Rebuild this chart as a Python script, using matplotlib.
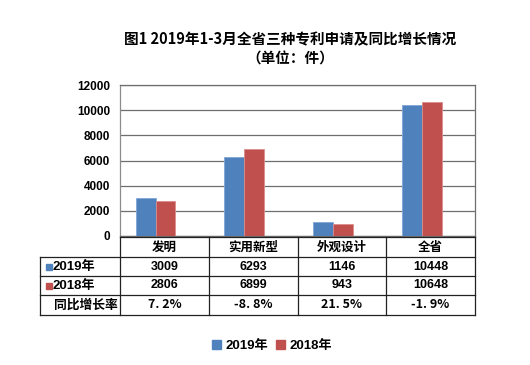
import matplotlib
matplotlib.use("Agg")
import matplotlib.pyplot as plt
from matplotlib.patches import Rectangle

plt.rcParams['font.family'] = ['Noto Sans CJK SC', 'DejaVu Sans']
plt.rcParams['font.weight'] = 'bold'

categories = ['发明', '实用新型', '外观设计', '全省']
series_names = ['2019年', '2018年']
values_2019 = [3009, 6293, 1146, 10448]
values_2018 = [2806, 6899, 943, 10648]
growth_labels = ['7.2%', '-8.8%', '21.5%', '-1.9%']
row_label_growth = '同比增长率'
yticks = [0, 2000, 4000, 6000, 8000, 10000, 12000]
title = '图1 2019年1-3月全省三种专利申请及同比增长情况\n（单位：件）'

c2019 = '#4F81BD'
c2018 = '#C0504D'
W, H = 530, 365
fig = plt.figure(figsize=(W / 100, H / 100), dpi=100)
num_font = ['Liberation Sans', 'Noto Sans CJK SC', 'DejaVu Sans']
mix_font = ['Liberation Sans', 'Noto Sans CJK SC', 'DejaVu Sans']

def fx(px):
    return px / W

def fy(py):
    return 1 - py / H

# main chart axes
ax = fig.add_axes([fx(120), fy(236), fx(475) - fx(120), fy(85) - fy(236)])
n = len(categories)
xs = list(range(n))
bw = 0.225
off = -0.1
ax.bar([x + off - bw / 2 for x in xs], values_2019, width=bw, color=c2019,
       edgecolor='#7FA6D6', linewidth=0.6, zorder=3)
ax.bar([x + off + bw / 2 for x in xs], values_2018, width=bw, color=c2018,
       edgecolor='#DB8D8B', linewidth=0.6, zorder=3)
ax.set_xlim(-0.5, n - 0.5)
ax.set_ylim(0, 12000)
ax.set_yticks(yticks)
ax.set_yticklabels([str(v) for v in yticks], fontsize=8.5, fontweight='bold',
                   family=num_font)
ax.set_xticks([])
ax.yaxis.grid(True, color='#6E6E6E', linewidth=0.9, zorder=0)
ax.tick_params(axis='y', length=0, pad=7)
for s in ax.spines.values():
    s.set_color('#6E6E6E')
    s.set_linewidth(0.9)
ax.spines['left'].set_color('#8C8C8C')

# table axes
label_w = 80 / 88.75
tax = fig.add_axes([fx(40), fy(315), fx(475) - fx(40), fy(237) - fy(315)])
x0 = -0.5 - label_w
tax.set_xlim(x0, n - 0.5)
tax.set_ylim(78, 0)
tax.axis('off')
row_tops = [0, 20, 39, 58, 78]
lc = '#222222'
lw = 0.9
tax.plot([-0.5, n - 0.5], [row_tops[0]] * 2, color=lc, lw=lw, clip_on=False)
for r in row_tops[1:]:
    tax.plot([x0, n - 0.5], [r, r], color=lc, lw=lw, clip_on=False)
tax.plot([x0, x0], [row_tops[1], row_tops[4]], color=lc, lw=lw, clip_on=False)
for i in range(n + 1):
    tax.plot([i - 0.5, i - 0.5], [row_tops[0], row_tops[4]], color=lc, lw=lw, clip_on=False)

def rowc(k):
    return (row_tops[k] + row_tops[k + 1]) / 2

fs = 9
for i, c in enumerate(categories):
    tax.text(i, rowc(0), c, ha='center', va='center', fontsize=fs, fontweight='bold')
    tax.text(i, rowc(1), str(values_2019[i]), ha='center', va='center', fontsize=9,
             fontweight='bold', family=num_font)
    tax.text(i, rowc(2), str(values_2018[i]), ha='center', va='center', fontsize=9,
             fontweight='bold', family=num_font)
    tax.text(i, rowc(3), growth_labels[i].replace('.', '. '), ha='center', va='center',
             fontsize=fs, fontweight='bold')

px_unit = 1 / 88.75
for k, (name, col) in enumerate(zip(series_names, [c2019, c2018])):
    yc = rowc(k + 1)
    tax.add_patch(Rectangle((x0 + 6 * px_unit, yc - 3), 6 * px_unit, 6, color=col, clip_on=False))
    tax.text(x0 + 12 * px_unit, yc, name, ha='left', va='center', fontsize=9.5,
             fontweight='bold', family=mix_font)
tax.text(x0 + 46 * px_unit, rowc(3), row_label_growth, ha='center', va='center',
         fontsize=9.2, fontweight='bold')

# title
fig.text(fx(290), fy(49), title, ha='center', va='center', fontsize=10.5,
         fontweight='bold', linespacing=1.2)

# legend
handles = [Rectangle((0, 0), 1, 1, color=c2019), Rectangle((0, 0), 1, 1, color=c2018)]
leg = fig.legend(handles, series_names, loc='center', bbox_to_anchor=(fx(272), fy(346)),
                 ncol=2, frameon=False, handlelength=0.7, handleheight=0.7,
                 handletextpad=0.3, columnspacing=0.6,
                 prop={'weight': 'bold', 'size': 9.5, 'family': mix_font})

fig.savefig('out.png', dpi=100)
